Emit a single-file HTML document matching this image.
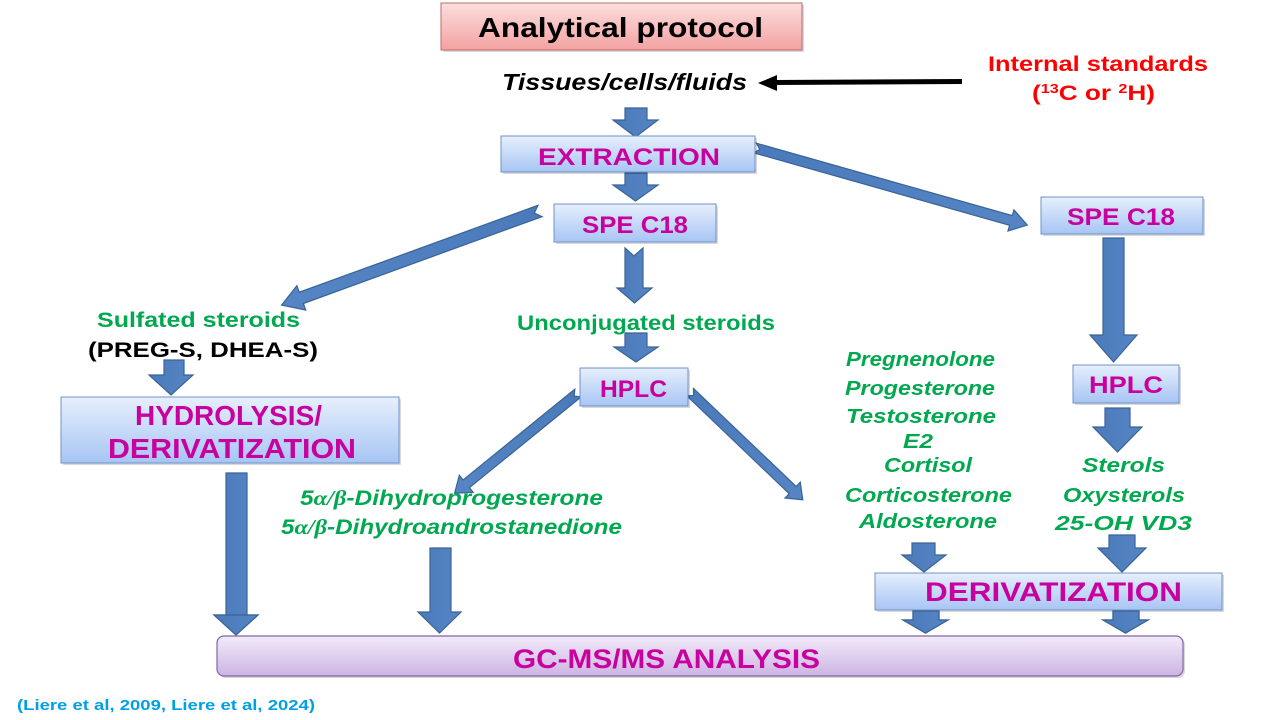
<!DOCTYPE html>
<html>
<head>
<meta charset="utf-8">
<style>
  html,body{margin:0;padding:0;background:#fff;}
  svg{display:block;}
  text{font-family:"Comic Sans MS","Liberation Sans","DejaVu Sans",sans-serif;font-weight:bold;}
  .mag{fill:#c8009e;}
  .grn{fill:#00a84f;}
  .it{font-style:italic;}
</style>
</head>
<body>
<svg width="1280" height="720" viewBox="0 0 1280 720" xmlns="http://www.w3.org/2000/svg">
  <defs>
    <linearGradient id="gBlue" x1="0" y1="0" x2="0" y2="1">
      <stop offset="0" stop-color="#e6effc"/>
      <stop offset="1" stop-color="#a7c5f4"/>
    </linearGradient>
    <linearGradient id="gPink" x1="0" y1="0" x2="0" y2="1">
      <stop offset="0" stop-color="#fcdede"/>
      <stop offset="1" stop-color="#f3a2a2"/>
    </linearGradient>
    <linearGradient id="gPurp" x1="0" y1="0" x2="0" y2="1">
      <stop offset="0" stop-color="#f2ebf9"/>
      <stop offset="1" stop-color="#cdb4e4"/>
    </linearGradient>
    <linearGradient id="gArr" x1="0" y1="0" x2="1" y2="0">
      <stop offset="0" stop-color="#4a7aba"/>
      <stop offset="1" stop-color="#5585c4"/>
    </linearGradient>
  </defs>

  <!-- Title box -->
  <rect x="443" y="5" width="361" height="47" fill="#000" opacity="0.15"/>
  <rect x="441" y="3" width="361" height="47" fill="url(#gPink)" stroke="#c06a6a" stroke-width="1"/>
  <text x="478" y="37" font-size="28" fill="#000" textLength="285" lengthAdjust="spacingAndGlyphs">Analytical protocol</text>

  <!-- Tissues -->
  <text x="502" y="90" font-size="23" fill="#000" class="it" textLength="245" lengthAdjust="spacingAndGlyphs">Tissues/cells/fluids</text>

  <!-- Black arrow -->
  <line x1="772" y1="82.5" x2="962" y2="81.5" stroke="#000" stroke-width="5"/>
  <polygon points="758,83 777,75 777,91" fill="#000"/>

  <!-- Internal standards -->
  <text x="988" y="71" font-size="21" fill="#ff0000" textLength="220" lengthAdjust="spacingAndGlyphs">Internal standards</text>
  <text x="1032" y="100" font-size="21" fill="#ff0000" textLength="123" lengthAdjust="spacingAndGlyphs">(<tspan font-size="13" dy="-7">13</tspan><tspan dy="7">C or </tspan><tspan font-size="13" dy="-7">2</tspan><tspan dy="7">H)</tspan></text>

  <!-- Arrows style group -->
  <g fill="url(#gArr)" stroke="#3a6395" stroke-width="1.2" stroke-linejoin="miter">
    <!-- down arrow 1 -->
    <polygon points="625,108 647,108 647,120 658,120 635.5,137 613,120 625,120"/>
    <!-- down arrow 2 -->
    <polygon points="625,173 647,173 647,185 658,185 635.5,201 613,185 625,185"/>
    <!-- center down arrow from SPE (notched) -->
    <polygon points="625,248 634,256 643,248 643,288 652,288 634.5,303 617,288 625,288"/>
    <!-- unconjugated -> HPLC -->
    <polygon points="625,333 647,333 647,347 658,347 636,362 614,347 625,347"/>
    <!-- sulfated -> hydrolysis -->
    <polygon points="164,360 184,360 184,375 193,375 171,395 149,375 164,375"/>
    <!-- hydrolysis long arrow -->
    <polygon points="226,473 247,473 247,615 258,615 236,635 214,615 226,615"/>
    <!-- 5a arrow -->
    <polygon points="430,548 451,548 451,612 461,612 439.5,633 418,612 430,612"/>
    <!-- right tall arrow -->
    <polygon points="1103,238 1124,238 1124,335 1137,335 1113.5,362 1090,335 1103,335"/>
    <!-- below right HPLC -->
    <polygon points="1105,408 1130,408 1130,427 1142,427 1117.5,452 1093,427 1105,427"/>
    <!-- aldosterone arrow -->
    <polygon points="912,543 935,543 935,555 946,555 924,572 902,555 912,555"/>
    <!-- sterols arrow -->
    <polygon points="1109,535 1135,535 1135,548 1146,548 1122,572 1098,548 1109,548"/>
    <!-- under derivatization -->
    <polygon points="913,611 939,611 939,620 948,620 925.5,633 903,620 913,620"/>
    <polygon points="1113,611 1139,611 1139,620 1148,620 1125.5,633 1103,620 1113,620"/>

    <!-- diagonal: SPE -> sulfated -->
    <g transform="translate(540,211) rotate(160)">
      <polygon points="0,-6 254,-6 254,-13 275,0 254,13 254,6 0,6 6,0"/>
    </g>
    <!-- diagonal: extraction -> right SPE -->
    <g transform="translate(755,148) rotate(15.8)">
      <polygon points="0,-5 266,-5 266,-11 283,0 266,11 266,5 0,5 5,0"/>
    </g>
    <!-- HPLC left diag -->
    <g transform="translate(578,393) rotate(140.9)">
      <polygon points="0,-5 144,-5 144,-11 159,0 144,11 144,5 0,5 5,0"/>
    </g>
    <!-- HPLC right diag -->
    <g transform="translate(690,392) rotate(43.7)">
      <polygon points="0,-5 142,-5 142,-11 156,0 142,11 142,5 0,5 5,0"/>
    </g>
  </g>

  <!-- EXTRACTION box -->
  <rect x="503" y="138" width="254" height="36" fill="#000" opacity="0.15"/>
  <rect x="501" y="136" width="254" height="36" fill="url(#gBlue)" stroke="#6f93c9" stroke-width="1"/>
  <text x="538" y="165" font-size="24" class="mag" textLength="182" lengthAdjust="spacingAndGlyphs">EXTRACTION</text>

  <!-- SPE C18 center -->
  <rect x="556" y="206" width="162" height="38" fill="#000" opacity="0.15"/>
  <rect x="554" y="204" width="162" height="38" fill="url(#gBlue)" stroke="#6f93c9" stroke-width="1"/>
  <text x="582" y="233" font-size="24" class="mag" textLength="106" lengthAdjust="spacingAndGlyphs">SPE C18</text>

  <!-- SPE C18 right -->
  <rect x="1043" y="199" width="162" height="37" fill="#000" opacity="0.15"/>
  <rect x="1041" y="197" width="162" height="37" fill="url(#gBlue)" stroke="#6f93c9" stroke-width="1"/>
  <text x="1067" y="225" font-size="24" class="mag" textLength="108" lengthAdjust="spacingAndGlyphs">SPE C18</text>

  <!-- Sulfated steroids -->
  <text x="97" y="327" font-size="21" class="grn" textLength="203" lengthAdjust="spacingAndGlyphs">Sulfated steroids</text>
  <text x="88" y="357" font-size="21" fill="#000" textLength="230" lengthAdjust="spacingAndGlyphs">(PREG-S, DHEA-S)</text>

  <!-- Hydrolysis box -->
  <rect x="63" y="399" width="338" height="66" fill="#000" opacity="0.15"/>
  <rect x="61" y="397" width="338" height="66" fill="url(#gBlue)" stroke="#6f93c9" stroke-width="1"/>
  <text x="135" y="425" font-size="28" class="mag" textLength="187" lengthAdjust="spacingAndGlyphs">HYDROLYSIS/</text>
  <text x="108" y="458" font-size="28" class="mag" textLength="248" lengthAdjust="spacingAndGlyphs">DERIVATIZATION</text>

  <!-- Unconjugated -->
  <text x="517" y="330" font-size="21" class="grn" textLength="258" lengthAdjust="spacingAndGlyphs">Unconjugated steroids</text>

  <!-- HPLC center -->
  <rect x="582" y="370" width="108" height="38" fill="#000" opacity="0.15"/>
  <rect x="580" y="368" width="108" height="38" fill="url(#gBlue)" stroke="#6f93c9" stroke-width="1"/>
  <text x="600" y="397" font-size="24" class="mag" textLength="67" lengthAdjust="spacingAndGlyphs">HPLC</text>

  <!-- HPLC right -->
  <rect x="1075" y="367" width="106" height="38" fill="#000" opacity="0.15"/>
  <rect x="1073" y="365" width="106" height="38" fill="url(#gBlue)" stroke="#6f93c9" stroke-width="1"/>
  <text x="1089" y="393" font-size="24" class="mag" textLength="74" lengthAdjust="spacingAndGlyphs">HPLC</text>

  <!-- 5a/b text -->
  <text x="300" y="505" font-size="21" class="grn it" textLength="303" lengthAdjust="spacingAndGlyphs">5<tspan font-family="Liberation Serif, serif">α/β</tspan>-Dihydroprogesterone</text>
  <text x="281" y="534" font-size="21" class="grn it" textLength="341" lengthAdjust="spacingAndGlyphs">5<tspan font-family="Liberation Serif, serif">α/β</tspan>-Dihydroandrostanedione</text>

  <!-- steroid list -->
  <g font-size="20" class="grn it">
    <text x="846" y="366" textLength="149" lengthAdjust="spacingAndGlyphs">Pregnenolone</text>
    <text x="845" y="395" textLength="150" lengthAdjust="spacingAndGlyphs">Progesterone</text>
    <text x="846" y="423" textLength="150" lengthAdjust="spacingAndGlyphs">Testosterone</text>
    <text x="903" y="448" textLength="30" lengthAdjust="spacingAndGlyphs">E2</text>
    <text x="884" y="472" textLength="88" lengthAdjust="spacingAndGlyphs">Cortisol</text>
    <text x="845" y="502" textLength="167" lengthAdjust="spacingAndGlyphs">Corticosterone</text>
    <text x="859" y="528" textLength="138" lengthAdjust="spacingAndGlyphs">Aldosterone</text>
    <text x="1082" y="472" textLength="83" lengthAdjust="spacingAndGlyphs">Sterols</text>
    <text x="1063" y="502" textLength="122" lengthAdjust="spacingAndGlyphs">Oxysterols</text>
    <text x="1055" y="530" textLength="137" lengthAdjust="spacingAndGlyphs">25-OH VD3</text>
  </g>

  <!-- DERIVATIZATION box right -->
  <rect x="877" y="575" width="347" height="37" fill="#000" opacity="0.15"/>
  <rect x="875" y="573" width="347" height="37" fill="url(#gBlue)" stroke="#6f93c9" stroke-width="1"/>
  <text x="925" y="601" font-size="27" class="mag" textLength="257" lengthAdjust="spacingAndGlyphs">DERIVATIZATION</text>

  <!-- redraw arrow tops under derivatization over box edge -->
  <g fill="url(#gArr)" stroke="#3a6395" stroke-width="1.2">
    <polygon points="913,611 939,611 939,620 948,620 925.5,633 903,620 913,620"/>
    <polygon points="1113,611 1139,611 1139,620 1148,620 1125.5,633 1103,620 1113,620"/>
  </g>

  <!-- GC-MS box -->
  <rect x="219" y="638" width="966" height="40" rx="7" fill="#000" opacity="0.15"/>
  <rect x="217" y="636" width="966" height="40" rx="7" fill="url(#gPurp)" stroke="#8066a4" stroke-width="1.2"/>
  <text x="513" y="668" font-size="27" class="mag" textLength="307" lengthAdjust="spacingAndGlyphs">GC-MS/MS ANALYSIS</text>

  <!-- arrow tips overlapping GC box slightly -->
  <g fill="url(#gArr)" stroke="#3a6395" stroke-width="1.2">
    <polygon points="214,615 258,615 236,635"/>
  </g>

  <!-- citation -->
  <text x="17" y="710" font-size="15" fill="#00a0e6" textLength="298" lengthAdjust="spacingAndGlyphs">(Liere et al, 2009, Liere et al, 2024)</text>
</svg>
</body>
</html>
